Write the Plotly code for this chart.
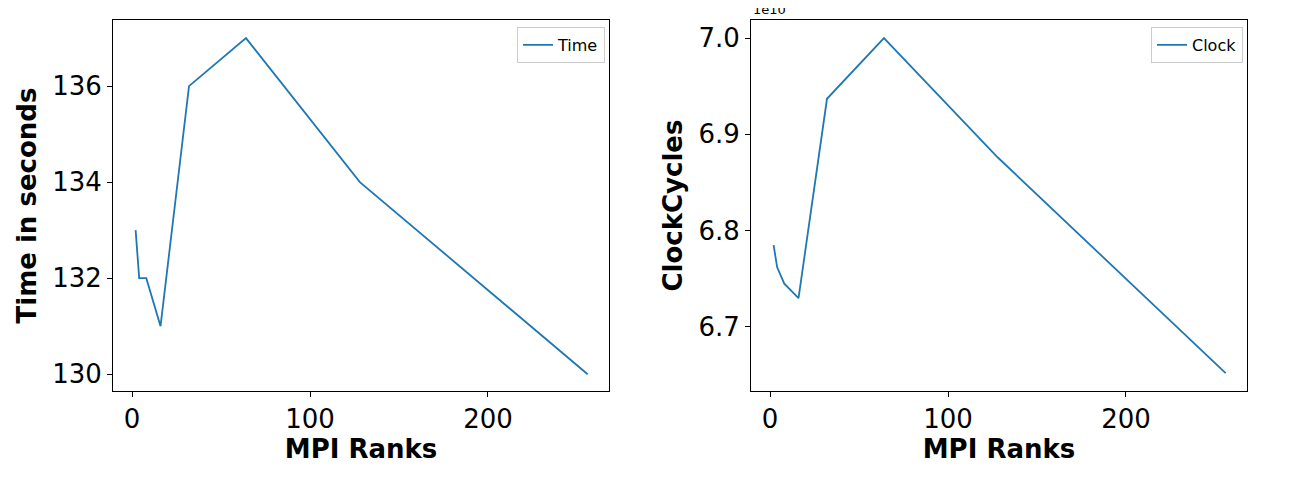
import plotly.graph_objects as go

ranks = [2, 4, 8, 16, 32, 64, 128, 256]
time_s = [133, 132, 132, 131, 136, 137, 134, 130]
clock = [6.785e10, 6.762e10, 6.745e10, 6.730e10, 6.937e10, 7.000e10, 6.876e10, 6.652e10]

blue = "#1f77b4"
font = "DejaVu Sans"

fig = go.Figure()
fig.add_trace(go.Scatter(x=ranks, y=time_s, mode="lines", name="Time", showlegend=True,
                         line=dict(color=blue, width=1.8), legend="legend"))
fig.add_trace(go.Scatter(x=ranks, y=[c / 1e10 for c in clock], mode="lines", name="Clock",
                         showlegend=True, line=dict(color=blue, width=1.8),
                         xaxis="x2", yaxis="y2", legend="legend2"))

ax = dict(showgrid=False, zeroline=False, showline=True, mirror=True, linecolor="black",
          linewidth=1, ticks="outside", ticklen=5, tickcolor="black",
          tickfont=dict(size=26, color="black", family=font))
tfont = dict(size=26, color="black", family=font, weight="bold")
lg = dict(bgcolor="white", bordercolor="#cccccc", borderwidth=1, xanchor="right", yanchor="top",
          font=dict(size=16, color="black", family=font))

dx = 7 / 1292
dy = 8 / 490
yd = [0.202 + dy, 0.959 + dy]

fig.update_layout(
    width=1292, height=490, margin=dict(l=0, r=0, t=0, b=0),
    plot_bgcolor="white", paper_bgcolor="white", font=dict(family=font), showlegend=True,
    xaxis=dict(ax, domain=[0.0867 - dx, 0.4706 - dx], range=[-10.7, 268], tickvals=[0, 100, 200],
               title=dict(text="MPI Ranks", font=tfont, standoff=6)),
    yaxis=dict(ax, domain=yd, range=[129.65, 137.375], tickvals=[130, 132, 134, 136],
               title=dict(text="Time in seconds", font=tfont, standoff=8)),
    xaxis2=dict(ax, domain=[0.5805 - dx, 0.9644 - dx], range=[-10.7, 268], tickvals=[0, 100, 200],
                anchor="y2", title=dict(text="MPI Ranks", font=tfont, standoff=6)),
    yaxis2=dict(ax, domain=yd, range=[6.6335, 7.0187], anchor="x2",
                tickvals=[6.7, 6.8, 6.9, 7.0], tickformat=".1f",
                title=dict(text="ClockCycles", font=tfont, standoff=8)),
    legend=dict(lg, x=0.4675 - dx, y=0.945 + dy),
    legend2=dict(lg, x=0.9613 - dx, y=0.945 + dy),
    annotations=[dict(text="1e10", x=0.5805 - dx, y=0.962 + dy, xref="paper", yref="paper",
                      xanchor="left", yanchor="bottom", showarrow=False,
                      font=dict(size=13, color="black", family=font))],
)

fig.write_html("out.html")
